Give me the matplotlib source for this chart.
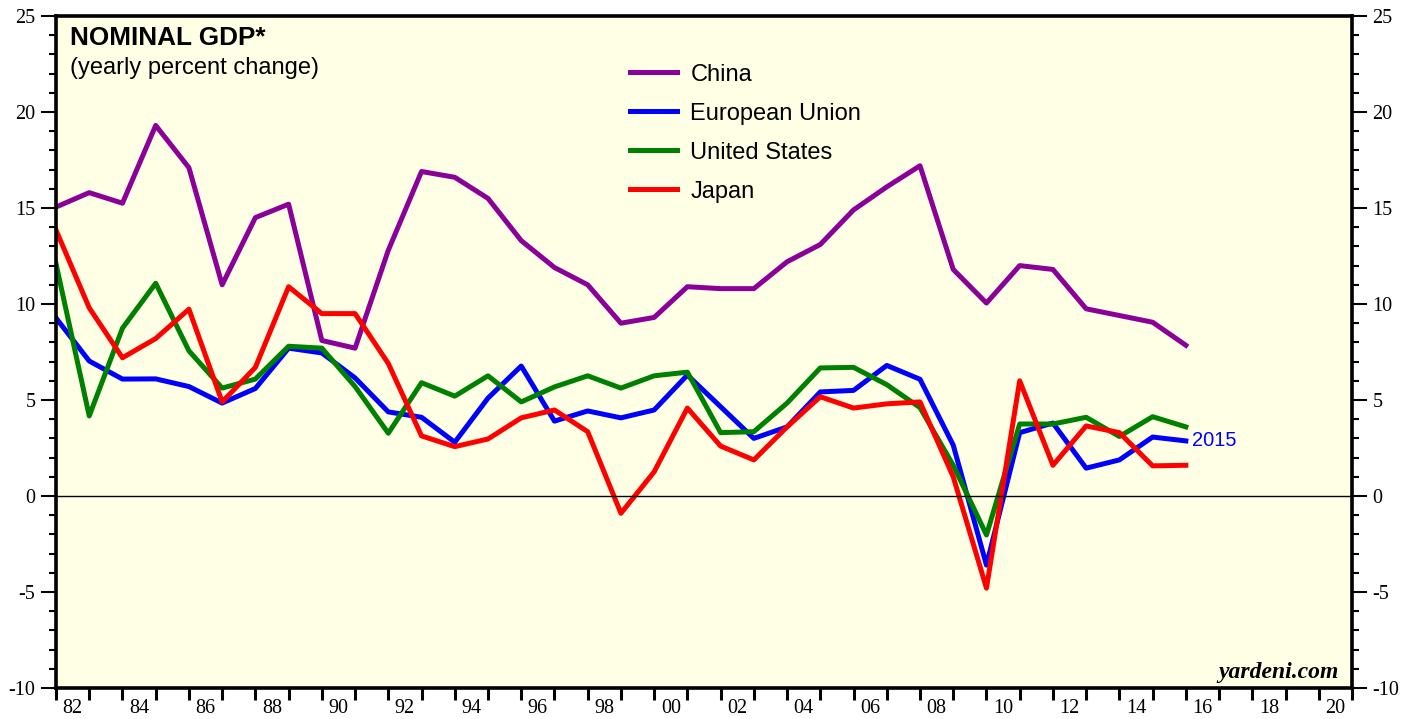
import matplotlib.pyplot as plt
import numpy as np

plt.rcParams['axes.unicode_minus'] = False

years = list(range(1981, 2016))

china = [15.05, 15.8, 15.25, 19.3, 17.1, 11.0, 14.5, 15.2, 8.1, 7.7,
         12.8, 16.9, 16.6, 15.5, 13.3, 11.9, 11.0, 9.0, 9.3, 10.9,
         10.8, 10.8, 12.2, 13.1, 14.9, 16.1, 17.2, 11.8, 10.05, 12.0,
         11.8, 9.75, 9.4, 9.05, 7.85]
eu = [9.27, 7.03, 6.09, 6.1, 5.7, 4.84, 5.6, 7.7, 7.45, 6.15,
      4.38, 4.1, 2.8, 5.1, 6.77, 3.9, 4.43, 4.07, 4.48, 6.3,
      4.65, 3.0, 3.6, 5.42, 5.5, 6.8, 6.08, 2.65, -3.6, 3.3,
      3.8, 1.45, 1.88, 3.07, 2.87]
us = [12.1, 4.17, 8.74, 11.08, 7.56, 5.62, 6.09, 7.8, 7.7, 5.7,
      3.27, 5.9, 5.2, 6.26, 4.9, 5.68, 6.26, 5.62, 6.26, 6.45,
      3.3, 3.35, 4.84, 6.67, 6.7, 5.8, 4.6, 1.6, -2.03, 3.75,
      3.75, 4.1, 3.1, 4.13, 3.6]
japan = [13.85, 9.8, 7.2, 8.2, 9.73, 4.9, 6.7, 10.9, 9.5, 9.5,
         6.9, 3.13, 2.57, 2.97, 4.07, 4.48, 3.35, -0.9, 1.26, 4.58,
         2.6, 1.88, 3.6, 5.17, 4.58, 4.8, 4.9, 1.0, -4.8, 6.0,
         1.6, 3.65, 3.3, 1.57, 1.6]

names = ['China', 'European Union', 'United States', 'Japan']
colors = ['#8B0096', '#0000FF', '#008000', '#FF0000']

tick_years = list(range(1982, 2021, 2))
tick_labels = [f'{y % 100:02d}' for y in tick_years]

fig = plt.figure(figsize=(14.17, 7.19), dpi=100)
ax = fig.add_axes([56 / 1417, 31 / 719, 1296 / 1417, 672 / 719])
ax.set_facecolor('#FFFFE5')

# each year's value sits at the end of that year
x = np.array(years) + 1
for vals, name, c in zip([china, eu, us, japan], names, colors):
    ax.plot(x, vals, color=c, lw=3.6, label=name)

ax.axhline(0, color='black', lw=1)
ax.set_xlim(1982, 2021)
ax.set_ylim(-10, 25)

for s in ax.spines.values():
    s.set_linewidth(2.6)

serif = 'Liberation Serif'
ax.set_xticks(range(1982, 2022))
ax.set_xticklabels([])
ax.set_xticks([y + 0.5 for y in tick_years], minor=True)
ax.set_xticklabels(tick_labels, minor=True, fontsize=14.5, family=serif)
ax.tick_params(axis='x', which='major', direction='out', length=8.6, width=2.2)
ax.tick_params(axis='x', which='minor', length=0, pad=8)

ax.set_yticks(range(-10, 26, 5))
ax.set_yticks(range(-10, 26), minor=True)
ax.tick_params(axis='y', which='major', direction='out', length=10.8, width=1.5,
               labelsize=14.5, right=True, labelright=True, pad=4)
ax.tick_params(axis='y', which='minor', direction='out', length=5, width=1.5,
               right=True)
for lab in ax.get_yticklabels():
    lab.set_family(serif)

ax.text(0.011, 0.967, 'NOMINAL GDP*', transform=ax.transAxes, fontsize=18.8,
        fontweight='bold', family='Liberation Sans', va='center')
ax.text(0.011, 0.923, '(yearly percent change)', transform=ax.transAxes,
        fontsize=17, family='Liberation Sans', va='center')

leg = ax.legend(loc='upper left', bbox_to_anchor=(0.443, 0.929), frameon=False,
                prop={'family': 'Liberation Sans', 'size': 17},
                handlelength=2.0, handletextpad=0.55, labelspacing=0.72,
                borderpad=0, borderaxespad=0)

ax.text(x[-1] + 0.2, eu[-1], '2015', color='#0000FF', fontsize=14.5,
        family='Liberation Sans', va='center', ha='left')
ax.text(0.99, 0.008, 'yardeni.com', transform=ax.transAxes, ha='right',
        va='bottom', fontsize=17, family=serif, fontweight='bold',
        style='italic')

fig.savefig('out.png', dpi=100)
